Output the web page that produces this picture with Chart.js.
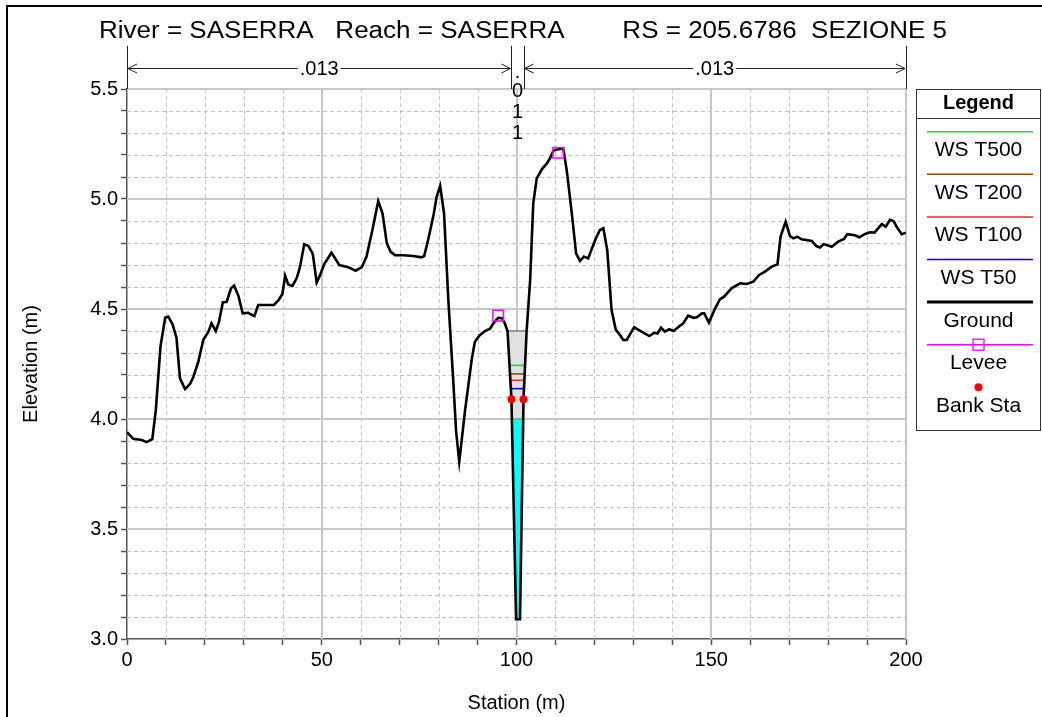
<!DOCTYPE html>
<html><head><meta charset="utf-8">
<script src="https://cdn.jsdelivr.net/npm/chart.js@4.4.0/dist/chart.umd.min.js"></script>
<style>html,body{margin:0;padding:0;background:#fff;}canvas{display:block;}</style>
</head><body>
<canvas id="c" width="1042" height="717"></canvas>
<script>
// ---------------- DATA ----------------
const groundSta = [
  0, 1.6, 3.8, 5.0, 6.5, 7.4, 8.6, 9.8, 10.6, 11.7,
  12.7, 13.6, 14.9, 16.2, 17.0, 18.3, 19.6, 20.9, 21.7, 22.8,
  23.6, 24.6, 25.6, 26.7, 27.5, 28.6, 29.7, 31.1, 32.7, 33.7,
  35.9, 37.7, 38.9, 39.9, 40.6, 41.4, 42.5, 43.6, 44.4, 45.5,
  46.6, 47.7, 48.7, 49.6, 50.6, 52.5, 54.5, 56.8, 58.7, 60.3,
  61.5, 63.0, 64.5, 65.6, 66.7, 67.7, 68.8, 70.9, 73.5, 75.6,
  76.3, 77.4, 78.7, 79.5, 80.4, 81.4, 82.5, 83.8, 84.5, 85.3,
  86.8, 88.5, 89.3, 90.5, 91.9, 93.2, 94.2, 95.3, 96.3, 97.0,
  97.7, 98.7, 99.9, 100.9, 101.8, 102.6, 103.5, 104.3, 105.2, 106.5,
  107.8, 108.6, 109.5, 110.7, 112.0, 112.9, 114.2, 115.3, 116.3, 117.3,
  118.4, 120.2, 121.4, 122.3, 123.3, 124.4, 125.5, 126.4, 127.4, 128.3,
  130.2, 132.1, 134.1, 135.4, 136.2, 137.1, 138.1, 139.2, 140.3, 141.5,
  142.8, 144.1, 145.4, 146.3, 147.6, 148.2, 149.4, 151.0, 152.2, 153.3,
  155.2, 157.4, 159.1, 160.8, 162.3, 163.8, 165.5, 167.0, 167.8, 169.1,
  170.2, 171.1, 172.1, 173.2, 175.8, 177.0, 177.9, 178.9, 180.9, 182.6,
  184.1, 184.9, 186.9, 188.0, 189.5, 190.8, 191.9, 193.8, 194.8, 195.9,
  196.8, 197.6, 198.9, 200
];
const groundElev = [
  3.94, 3.91, 3.905, 3.895, 3.908, 4.04, 4.33, 4.46, 4.465, 4.43,
  4.37, 4.185, 4.136, 4.16, 4.19, 4.26, 4.36, 4.397, 4.435, 4.40,
  4.44, 4.53, 4.533, 4.594, 4.606, 4.56, 4.48, 4.483, 4.468, 4.518,
  4.518, 4.518, 4.54, 4.568, 4.651, 4.612, 4.605, 4.642, 4.69, 4.794,
  4.786, 4.75, 4.621, 4.655, 4.703, 4.756, 4.70, 4.69, 4.674, 4.69,
  4.738, 4.859, 4.99, 4.935, 4.799, 4.76, 4.745, 4.744, 4.741, 4.735,
  4.741, 4.821, 4.927, 5.01, 5.059, 4.935, 4.541, 4.162, 3.942, 3.806,
  4.04, 4.27, 4.35, 4.38, 4.40, 4.41, 4.438, 4.46, 4.458, 4.435,
  4.40, 4.09, 3.09, 3.09, 4.09, 4.40, 4.63, 4.98, 5.094, 5.135,
  5.162, 5.185, 5.22, 5.226, 5.23, 5.13, 4.935, 4.753, 4.718, 4.738,
  4.73, 4.814, 4.859, 4.867, 4.768, 4.495, 4.405, 4.386, 4.359, 4.359,
  4.417, 4.397, 4.377, 4.392, 4.389, 4.415, 4.397, 4.408, 4.40, 4.417,
  4.435, 4.47, 4.46, 4.462, 4.48, 4.48, 4.438, 4.503, 4.544, 4.556,
  4.594, 4.617, 4.614, 4.624, 4.655, 4.67, 4.692, 4.703, 4.829, 4.897,
  4.832, 4.821, 4.829, 4.817, 4.809, 4.786, 4.78, 4.795, 4.783, 4.806,
  4.818, 4.84, 4.835, 4.826, 4.841, 4.849, 4.847, 4.886, 4.874, 4.905,
  4.90, 4.874, 4.84, 4.847
];
const leveeSta = [95.3, 110.7];
const leveeElev = [4.47, 5.21];
const bankSta = [98.7, 101.8];
const bankElev = [4.09, 4.09];
const wsNames = ['WS T500', 'WS T200', 'WS T100', 'WS T50'];
const wsElev = [4.244, 4.205, 4.176, 4.138];
const wsColors = ['#22dd22', '#994c00', '#ff2a2a', '#0000ff'];
const waterFillElev = 4.0;
const lidElev = 4.40;
const nValues = ['.013', '.011', '.013'];
const titleParts = ['River = SASERRA', 'Reach = SASERRA', 'RS = 205.6786', 'SEZIONE 5'];
const xAxisTitle = 'Station (m)';
const yAxisTitle = 'Elevation (m)';
const xLabelStep = 50;
const yLabelStep = 0.5;

// ---------------- HELPERS ----------------
const FONT = '"Liberation Sans", Arial, sans-serif';
const ground = groundSta.map((s, i) => ({x: s, y: groundElev[i]}));
function channelPolygon(level) {
  let iMin = 0;
  for (let i = 1; i < groundElev.length; i++) if (groundElev[i] < groundElev[iMin]) iMin = i;
  let l = iMin; while (l > 0 && groundElev[l - 1] < level) l--;
  let r = iMin; while (r < groundElev.length - 1 && groundElev[r + 1] < level) r++;
  const interp = (a, b) => groundSta[a] + (level - groundElev[a]) / (groundElev[b] - groundElev[a]) * (groundSta[b] - groundSta[a]);
  const xl = interp(l - 1, l), xr = interp(r, r + 1);
  const pts = [{x: xl, y: level}];
  for (let i = l; i <= r; i++) pts.push({x: groundSta[i], y: groundElev[i]});
  pts.push({x: xr, y: level});
  return {pts, xl, xr};
}
const lidPoly = channelPolygon(lidElev);
const waterPoly = channelPolygon(waterFillElev);

const datasets = [];
datasets.push({label: 'Ground', data: ground, showLine: true, borderColor: '#000', borderWidth: 2.6, pointRadius: 0, tension: 0, fill: false, order: 1});
datasets.push({label: 'Levee', data: leveeSta.map((s, i) => ({x: s, y: leveeElev[i]})), showLine: false, pointStyle: 'rect', pointRadius: 7.5, pointBorderColor: '#ff00ff', pointBackgroundColor: 'rgba(0,0,0,0)', pointBorderWidth: 1.5, order: 0});
datasets.push({label: 'Bank Sta', data: bankSta.map((s, i) => ({x: s, y: bankElev[i]})), showLine: false, pointStyle: 'circle', pointRadius: 4, pointBorderWidth: 0, pointBackgroundColor: '#ff0000', pointBorderColor: '#ff0000', order: 0});
wsElev.forEach((lv, k) => {
  const p = channelPolygon(lv);
  datasets.push({label: wsNames[k], data: [{x: p.xl, y: lv}, {x: p.xr, y: lv}], showLine: true, borderColor: wsColors[k], borderWidth: 1.6, pointRadius: 0, fill: false, order: 2});
});
datasets.push({label: 'lidTop', data: [{x: lidPoly.xl, y: lidElev}, {x: lidPoly.xr, y: lidElev}], showLine: true, borderColor: '#808080', borderWidth: 1.6, pointRadius: 0, order: 3});
datasets.push({label: 'waterTop', data: [{x: waterPoly.xl, y: waterFillElev}, {x: waterPoly.xr, y: waterFillElev}], showLine: true, borderColor: '#8a8a8a', borderWidth: 1.4, pointRadius: 0, order: 3});
datasets.push({label: 'water', data: waterPoly.pts, showLine: true, borderWidth: 0, borderColor: 'rgba(0,0,0,0)', backgroundColor: '#00ffff', pointRadius: 0, fill: {value: waterFillElev}, order: 4});
datasets.push({label: 'lid', data: lidPoly.pts, showLine: true, borderWidth: 0, borderColor: 'rgba(0,0,0,0)', backgroundColor: '#e0e0e0', pointRadius: 0, fill: {value: lidElev}, order: 5});

// ---------------- PLUGINS ----------------
const gridPlugin = {
  id: 'hecgrid',
  beforeDatasetsDraw(chart) {
    const {ctx, chartArea: a, scales: {x, y}} = chart;
    ctx.save();
    const isMajX = v => Math.abs(v / xLabelStep - Math.round(v / xLabelStep)) < 1e-6;
    const isMajY = v => Math.abs(v / yLabelStep - Math.round(v / yLabelStep)) < 1e-6;
    ctx.strokeStyle = '#c4c4c4'; ctx.lineWidth = 1; ctx.setLineDash([4, 3]);
    x.ticks.forEach(t => { if (!isMajX(t.value)) { const px = Math.round(x.getPixelForValue(t.value)) + 0.5; ctx.beginPath(); ctx.moveTo(px, a.top); ctx.lineTo(px, a.bottom); ctx.stroke(); } });
    y.ticks.forEach(t => { if (!isMajY(t.value)) { const py = Math.round(y.getPixelForValue(t.value)) + 0.5; ctx.beginPath(); ctx.moveTo(a.left, py); ctx.lineTo(a.right, py); ctx.stroke(); } });
    ctx.setLineDash([]); ctx.strokeStyle = '#c8c8c8'; ctx.lineWidth = 2;
    x.ticks.forEach(t => { if (isMajX(t.value) && t.value !== x.min) { const px = Math.round(x.getPixelForValue(t.value)); ctx.beginPath(); ctx.moveTo(px, a.top); ctx.lineTo(px, a.bottom); ctx.stroke(); } });
    y.ticks.forEach(t => { if (isMajY(t.value) && t.value !== y.min) { const py = Math.round(y.getPixelForValue(t.value)); ctx.beginPath(); ctx.moveTo(a.left, py); ctx.lineTo(a.right, py); ctx.stroke(); } });
    ctx.restore();
  }
};

const annoPlugin = {
  id: 'hecanno',
  afterDraw(chart) {
    const {ctx, chartArea: a, scales: {x, y}} = chart;
    ctx.save();
    // outer frame
    ctx.strokeStyle = '#000'; ctx.lineWidth = 2;
    ctx.beginPath(); ctx.moveTo(7, 717); ctx.lineTo(7, 6); ctx.lineTo(1042, 6); ctx.stroke();
    // title (segments, slightly condensed tall font)
    ctx.fillStyle = '#000'; ctx.textBaseline = 'alphabetic'; ctx.textAlign = 'left';
    ctx.font = '23px ' + FONT;
    const sep = ['   ', '        ', '  '];
    let full = titleParts[0];
    for (let i = 1; i < titleParts.length; i++) full += sep[i - 1] + titleParts[i];
    const tw = ctx.measureText(full).width;
    ctx.save(); ctx.translate(99, 37.5); ctx.scale(848 / tw, 1); ctx.fillText(full, 0, 0); ctx.restore();
    // n-value brackets
    const bx = [x.getPixelForValue(x.min), x.getPixelForValue(bankSta[0]), x.getPixelForValue(bankSta[1]), x.getPixelForValue(x.max)];
    const ay = 68;
    ctx.strokeStyle = '#222'; ctx.lineWidth = 1;
    bx.forEach(px => { const p = Math.round(px) + 0.5; ctx.beginPath(); ctx.moveTo(p, 46); ctx.lineTo(p, a.top); ctx.stroke(); });
    ctx.font = '20px ' + FONT; ctx.textAlign = 'center'; ctx.textBaseline = 'middle';
    const arrow = (x0, x1, label) => {
      const mid = (x0 + x1) / 2; const w = ctx.measureText(label).width;
      ctx.beginPath();
      ctx.moveTo(x0 + 1, ay + 0.5); ctx.lineTo(mid - w / 2 - 2, ay + 0.5);
      ctx.moveTo(mid + w / 2 + 2, ay + 0.5); ctx.lineTo(x1 - 1, ay + 0.5);
      ctx.moveTo(x0 + 10, ay - 4); ctx.lineTo(x0 + 1, ay + 0.5); ctx.lineTo(x0 + 10, ay + 5);
      ctx.moveTo(x1 - 10, ay - 4); ctx.lineTo(x1 - 1, ay + 0.5); ctx.lineTo(x1 - 10, ay + 5);
      ctx.stroke();
      ctx.fillText(label, mid, ay + 1);
    };
    arrow(bx[0], bx[1], nValues[0]);
    arrow(bx[2], bx[3], nValues[2]);
    const midC = (bx[1] + bx[2]) / 2;
    const chars = nValues[1].split('');
    const cy = [72, 91.5, 112.5, 133.5];
    chars.forEach((c, i) => ctx.fillText(c, midC, cy[i]));
    // axis titles
    ctx.font = '20px ' + FONT;
    ctx.fillText(xAxisTitle, (a.left + a.right) / 2, 703);
    ctx.save(); ctx.translate(31, (a.top + a.bottom) / 2); ctx.rotate(-Math.PI / 2); ctx.fillText(yAxisTitle, 0, 0); ctx.restore();
    // legend
    const L = 916.5, R = 1040.5, T = 89.5, B = 430.5, cx = (L + R) / 2;
    ctx.fillStyle = '#fff'; ctx.fillRect(L, T, R - L, B - T);
    ctx.strokeStyle = '#333'; ctx.lineWidth = 1; ctx.strokeRect(L, T, R - L, B - T);
    ctx.beginPath(); ctx.moveTo(L, 118.5); ctx.lineTo(R, 118.5); ctx.stroke();
    ctx.fillStyle = '#000'; ctx.font = 'bold 20px ' + FONT; ctx.fillText('Legend', cx, 103);
    ctx.font = '21px ' + FONT;
    const items = wsNames.map((n, k) => ({name: n, color: wsColors[k], w: 1.5, kind: 'line'}))
      .concat([{name: 'Ground', color: '#000', w: 3, kind: 'line'}, {name: 'Levee', color: '#ff00ff', w: 1.5, kind: 'levee'}, {name: 'Bank Sta', color: '#ff0000', kind: 'dot'}]);
    items.forEach((it, i) => {
      const ly = 131.7 + i * 42.6, tyy = ly + 18.8;
      if (it.kind === 'dot') {
        ctx.fillStyle = it.color; ctx.beginPath(); ctx.arc(cx, ly, 4, 0, Math.PI * 2); ctx.fill();
      } else {
        ctx.strokeStyle = it.color; ctx.lineWidth = it.w; ctx.beginPath(); ctx.moveTo(927, ly); ctx.lineTo(1033, ly); ctx.stroke();
        if (it.kind === 'levee') { ctx.lineWidth = 1.3; ctx.strokeRect(cx - 5.5, ly - 5.5, 11, 11); }
      }
      ctx.fillStyle = '#000'; ctx.fillText(it.name, cx, tyy);
    });
    ctx.restore();
  }
};

const tickFont = {family: '"Liberation Sans", Arial, sans-serif', size: 20};
new Chart(document.getElementById('c').getContext('2d'), {
  type: 'scatter',
  data: {datasets},
  options: {
    responsive: false, animation: false, devicePixelRatio: 1,
    layout: {padding: {top: 89, right: 136, left: 0, bottom: 0}},
    plugins: {legend: {display: false}, tooltip: {enabled: false}, title: {display: false}},
    scales: {
      x: {type: 'linear', min: 0, max: 200, afterFit(s) { s.height = 78; },
        ticks: {stepSize: 10, autoSkip: false, maxRotation: 0, padding: 3, color: '#000', font: tickFont,
          callback: v => (Math.abs(v / xLabelStep - Math.round(v / xLabelStep)) < 1e-6 ? String(Math.round(v)) : '')},
        grid: {drawOnChartArea: false, drawTicks: true, tickLength: 6, tickColor: '#555', tickWidth: 1.5},
        border: {display: true, color: '#555', width: 1.5}},
      y: {type: 'linear', min: 3, max: 5.5, afterFit(s) { s.width = 127; },
        ticks: {stepSize: 0.1, autoSkip: false, padding: 3, color: '#000', font: tickFont,
          callback: v => (Math.abs(v / yLabelStep - Math.round(v / yLabelStep)) < 1e-6 ? v.toFixed(1) : '')},
        grid: {drawOnChartArea: false, drawTicks: true, tickLength: 6, tickColor: '#555', tickWidth: 1.5},
        border: {display: true, color: '#555', width: 1.5}}
    }
  },
  plugins: [gridPlugin, annoPlugin]
});
</script>
</body></html>
